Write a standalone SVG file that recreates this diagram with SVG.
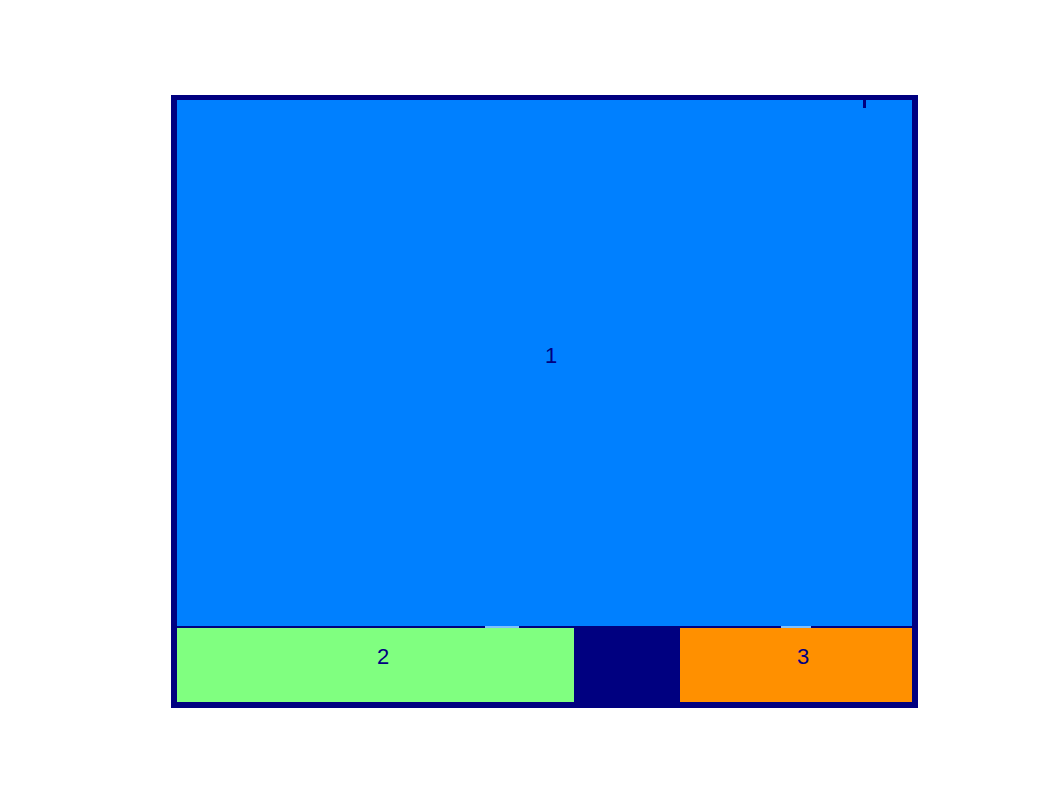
<svg xmlns="http://www.w3.org/2000/svg" width="1062" height="796" viewBox="0 0 1062 796">
<style>
.lbl{font-family:"Liberation Sans",Arial,sans-serif;font-size:22px;fill:#000080;text-anchor:middle}
.navy{fill:#000080}
</style>
<rect width="1062" height="796" fill="#ffffff"/>
<g id="frame"><rect class="navy" x="171" y="95" width="747" height="613"/></g>
<g id="node1">
<rect x="177" y="100" width="735" height="526" fill="#0080ff"/>
<text class="lbl" x="551" y="363">1</text>
</g>
<g id="node2">
<rect x="177" y="628" width="397" height="74" fill="#80ff80"/>
<text class="lbl" x="383" y="664">2</text>
</g>
<g id="node3">
<rect x="680" y="628" width="232" height="74" fill="#ff9000"/>
<text class="lbl" x="803" y="664">3</text>
</g>
<g id="connectors">
<rect x="485" y="626" width="34" height="2" fill="#80c0ff"/>
<rect x="781" y="626" width="30" height="2" fill="#80c0ff"/>
<rect class="navy" x="863" y="100" width="3" height="8"/>
</g>
</svg>
